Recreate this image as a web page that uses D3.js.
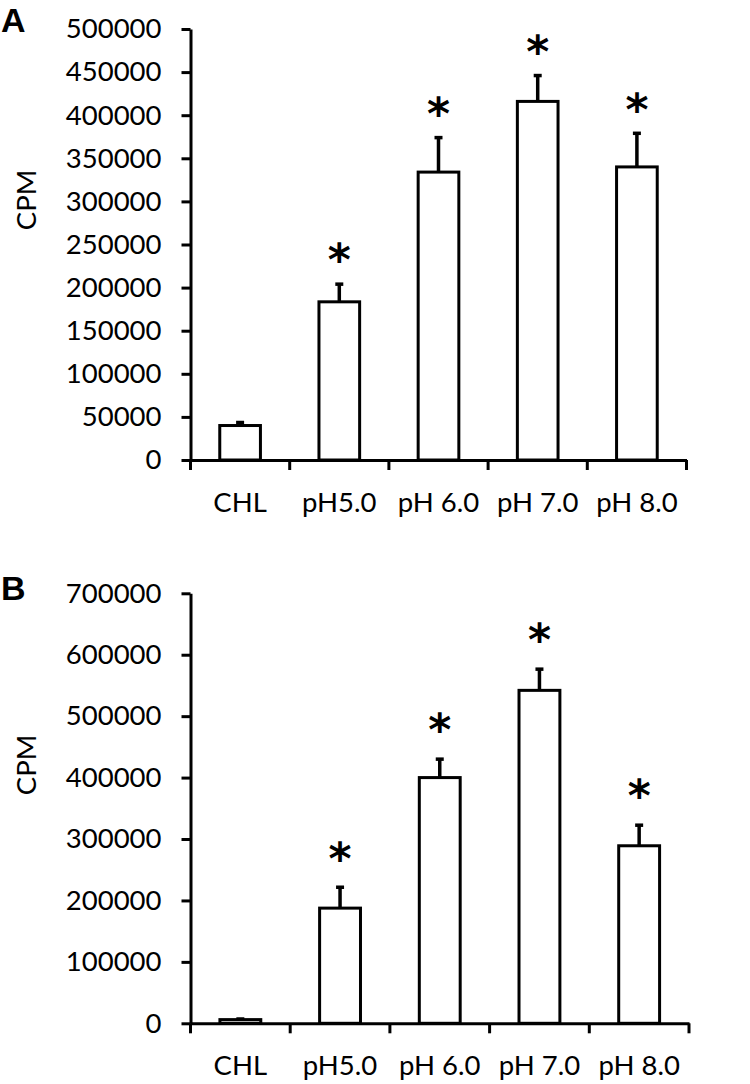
<!DOCTYPE html>
<html>
<head>
<meta charset="utf-8">
<script src="https://cdn.jsdelivr.net/npm/d3@7"></script>
<style>
  html, body { margin: 0; padding: 0; background: #fff; }
  svg { display: block; }
  text { font-family: Lato, "Open Sans", sans-serif; fill: #000; }
</style>
</head>
<body>
<svg id="chart" width="750" height="1084"></svg>
<script>
const categories = ["CHL", "pH5.0", "pH 6.0", "pH 7.0", "pH 8.0"];

const valuesA = [40000, 183500, 334000, 416000, 340000];
const errorsA = [3500, 20500, 40000, 30000, 39000];
const significantA = [false, true, true, true, true];
const yTicksA = [0, 50000, 100000, 150000, 200000, 250000, 300000, 350000, 400000, 450000, 500000];

const valuesB = [6000, 187500, 400000, 542000, 289000];
const errorsB = [1000, 34000, 30000, 34500, 33500];
const significantB = [false, true, true, true, true];
const yTicksB = [0, 100000, 200000, 300000, 400000, 500000, 600000, 700000];

const svg = d3.select("#chart");
const FS = "27.5px";

function drawPanel(cfg) {
  const g = svg.append("g");
  const x = d3.scaleBand().domain(categories).range([cfg.x0, cfg.x1]).padding(0);
  const y = d3.scaleLinear().domain([0, cfg.yMax]).range([cfg.yBottom, cfg.yTop]);

  // y axis
  const yAxis = d3.axisLeft(y).tickValues(cfg.yTicks).tickSize(9).tickSizeOuter(0).tickPadding(20)
    .tickFormat(d3.format("d"));
  const ya = g.append("g").attr("transform", `translate(${cfg.x0},0)`).call(yAxis);
  ya.selectAll("path.domain").attr("stroke", "#000").attr("stroke-width", 3);
  ya.selectAll(".tick line").attr("stroke", "#000").attr("stroke-width", 3);
  ya.selectAll(".tick text").style("font-family", "Lato").style("font-size", FS).attr("fill", "#000");

  // x axis (labels centred in bands, ticks at band boundaries)
  const xAxis = d3.axisBottom(x).tickSize(0).tickSizeOuter(0).tickPadding(32);
  const xa = g.append("g").attr("transform", `translate(0,${cfg.yBottom})`).call(xAxis);
  xa.selectAll("path.domain").attr("stroke", "#000").attr("stroke-width", 3);
  xa.selectAll(".tick text").style("font-family", "Lato").style("font-size", FS).attr("fill", "#000");
  const bounds = categories.map(c => x(c)).concat([cfg.x1]);
  g.append("g").selectAll("line").data(bounds).join("line")
    .attr("x1", d => d).attr("x2", d => d)
    .attr("y1", cfg.yBottom).attr("y2", cfg.yBottom + 10)
    .attr("stroke", "#000").attr("stroke-width", 3);

  const bw = x.bandwidth() * 0.41;
  const data = categories.map((c, i) => ({ c, v: cfg.values[i], e: cfg.errors[i], s: cfg.sig[i] }));

  // error bars
  const eb = g.append("g");
  eb.selectAll("line.err").data(data).join("line").attr("class", "err")
    .attr("x1", d => x(d.c) + x.bandwidth() / 2).attr("x2", d => x(d.c) + x.bandwidth() / 2)
    .attr("y1", d => y(d.v)).attr("y2", d => y(d.v + d.e))
    .attr("stroke", "#000").attr("stroke-width", 3.5);
  eb.selectAll("line.cap").data(data).join("line").attr("class", "cap")
    .attr("x1", d => x(d.c) + x.bandwidth() / 2 - 4).attr("x2", d => x(d.c) + x.bandwidth() / 2 + 4)
    .attr("y1", d => y(d.v + d.e)).attr("y2", d => y(d.v + d.e))
    .attr("stroke", "#000").attr("stroke-width", 3.5);

  // bars
  g.append("g").selectAll("rect").data(data).join("rect")
    .attr("x", d => x(d.c) + (x.bandwidth() - bw) / 2)
    .attr("width", bw)
    .attr("y", d => y(d.v))
    .attr("height", d => y(0) - y(d.v))
    .attr("fill", "#fff").attr("stroke", "#000").attr("stroke-width", 3);

  // significance stars
  g.append("g").selectAll("text").data(data.filter(d => d.s)).join("text")
    .attr("x", d => x(d.c) + x.bandwidth() / 2)
    .attr("y", d => y(d.v + d.e) - cfg.starGap)
    .attr("text-anchor", "middle")
    .attr("dy", "0.62em")
    .style("font-family", "DejaVu Sans").style("font-weight", "bold").style("font-size", "44px")
    .text("*");

  // y title
  g.append("text")
    .attr("transform", `translate(${cfg.titleX},${cfg.titleY}) rotate(-90)`)
    .attr("text-anchor", "middle")
    .attr("dy", "0.35em")
    .style("font-size", FS)
    .text("CPM");

  // panel letter
  g.append("text")
    .attr("x", cfg.letterX).attr("y", cfg.letterY)
    .style("font-family", "Liberation Sans, Arial, sans-serif")
    .style("font-weight", "bold").style("font-size", "34px")
    .text(cfg.letter);
}

drawPanel({
  letter: "A", letterX: 1, letterY: 32,
  x0: 190.5, x1: 686.5, yBottom: 460, yTop: 29, yMax: 500000,
  yTicks: yTicksA, values: valuesA, errors: errorsA, sig: significantA,
  starGap: 36, titleX: 26, titleY: 200
});

drawPanel({
  letter: "B", letterX: 1, letterY: 600,
  x0: 190.5, x1: 689, yBottom: 1023.3, yTop: 593.3, yMax: 700000,
  yTicks: yTicksB, values: valuesB, errors: errorsB, sig: significantB,
  starGap: 41, titleX: 26, titleY: 765
});
</script>
</body>
</html>
